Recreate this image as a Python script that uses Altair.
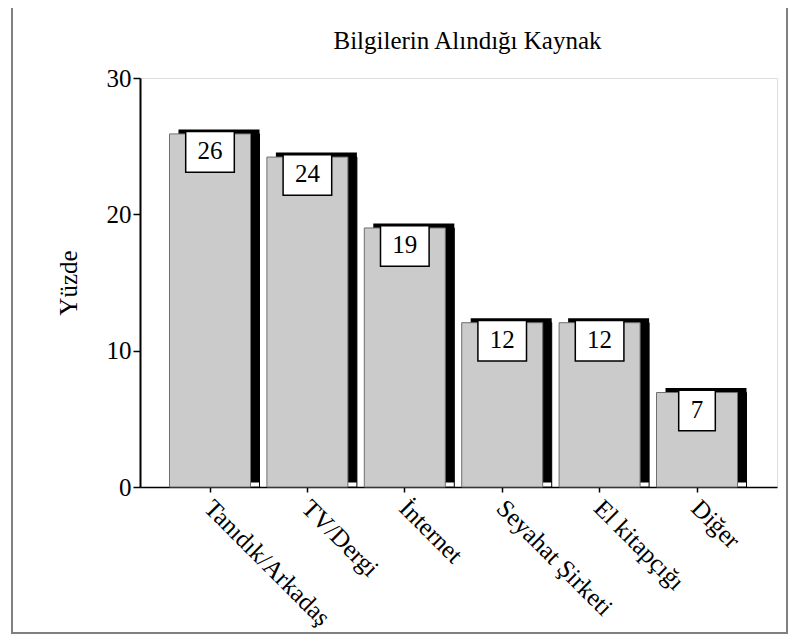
import altair as alt
import pandas as pd

categories = ["Tanıdık/Arkadaş", "TV/Dergi", "İnternet", "Seyahat Şirketi", "El kitapçığı", "Diğer"]
values = [25.9, 24.2, 19.0, 12.05, 12.05, 6.93]
labels = ["26", "24", "19", "12", "12", "7"]
y_ticks = [0, 10, 20, 30]

df = pd.DataFrame({"kaynak": categories, "yuzde": values, "etiket": labels})

FONT = "Liberation Serif"

x_enc = alt.X(
    "kaynak:N",
    sort=categories,
    scale=alt.Scale(paddingInner=0, paddingOuter=0.27, align=0.405),
    axis=alt.Axis(
        title=None, labelAngle=45, labelAlign="left", labelBaseline="top",
        labelOffset=7, labelPadding=3, tickSize=5, tickWidth=1.5, tickColor="black",
        domainColor="black", domainWidth=1.5, labelFont=FONT, labelFontSize=25,
        labelColor="black", labelLimit=0,
    ),
)
y_enc = alt.Y(
    "yuzde:Q",
    scale=alt.Scale(domain=[0, 30], nice=False),
    axis=alt.Axis(
        values=y_ticks, title="Yüzde", grid=False, tickSize=7, tickWidth=1.5,
        tickColor="black", domainColor="black", domainWidth=2, labelPadding=2,
        labelFont=FONT, labelFontSize=25, labelColor="black",
        titleFont=FONT, titleFontSize=25, titleFontWeight="normal", titleColor="black",
        titleAngle=270, titleX=-72, titleY=204.5, titleAlign="center", titleBaseline="middle",
    ),
)

base = alt.Chart(df)

under = base.mark_bar(size=81, xOffset=9, fill="white", stroke="black", strokeWidth=1).encode(x=x_enc, y=y_enc)
shadow = base.mark_bar(size=81, xOffset=9, yOffset=-4.5, y2Offset=-4.5, fill="black").encode(x=x_enc, y=y_enc)
front = base.mark_bar(size=81, fill="#cbcbcb", stroke="#6e6e6e", strokeWidth=1).encode(x=x_enc, y=y_enc)
box = base.transform_calculate(bw="length(datum.etiket) * 12 + 24.6").mark_bar(
    fill="white", stroke="black", strokeWidth=1.5, yOffset=-2.3, y2Offset=38.3
).encode(x=x_enc, y=y_enc, y2=alt.Y2("yuzde:Q"), size=alt.Size("bw:Q", scale=None, legend=None))
txt = base.mark_text(font=FONT, fontSize=25, color="black", baseline="alphabetic", dy=25).encode(
    x=x_enc, y=y_enc, text="etiket:N"
)
border = alt.Chart(pd.DataFrame({"k": [0]})).mark_rect(
    filled=False, stroke="#808080", strokeWidth=2
).encode(x=alt.value(-128), x2=alt.value(647), y=alt.value(-71.5), y2=alt.value(555))

chart = alt.layer(border, under, shadow, front, box, txt).properties(
    width=637, height=409,
    title=alt.TitleParams("Bilgilerin Alındığı Kaynak", font=FONT, fontSize=25, fontWeight="normal",
                          color="black", anchor="middle", dx=9, offset=-68, baseline="alphabetic"),
    autosize=alt.AutoSizeParams(type="none"),
    padding={"left": 132, "top": 70, "right": 14, "bottom": 148},
).configure_view(stroke="black", strokeWidth=1.2).configure(font=FONT, background="white")

chart.save("out.html", embed_options={"renderer": "svg", "actions": False})
